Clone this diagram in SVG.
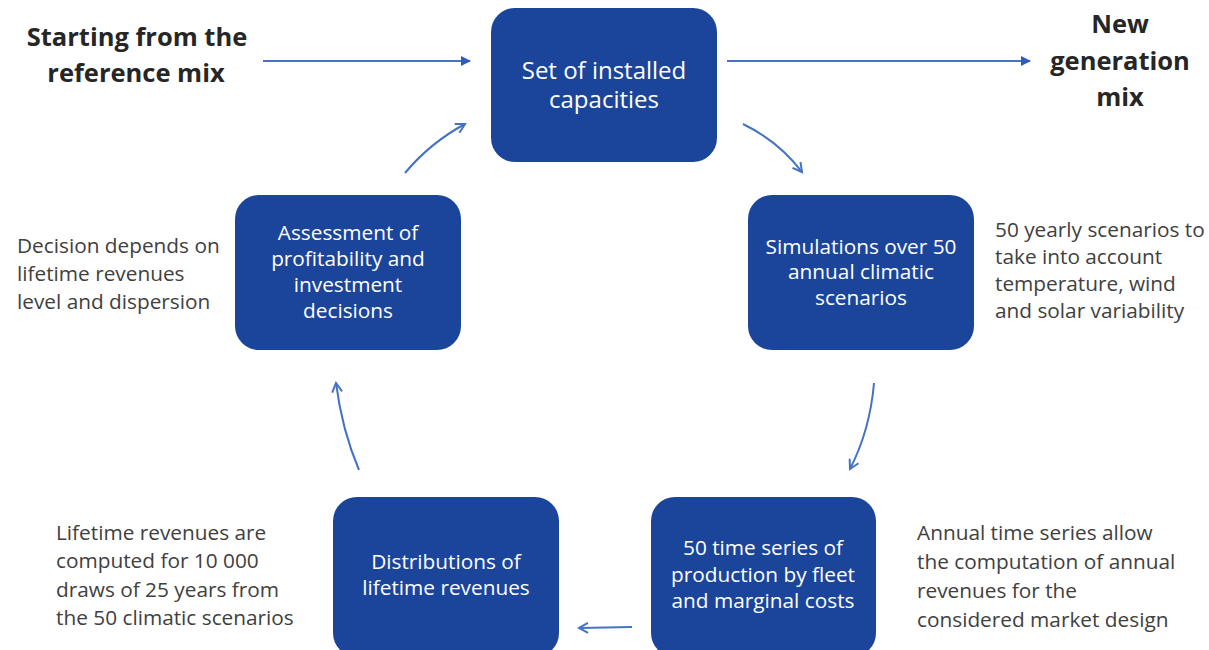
<svg xmlns="http://www.w3.org/2000/svg" width="1209" height="650" viewBox="0 0 1209 650">
<style>
.box{fill:#1B459B;}
.bt{font-family:"Open Sans",Lato,sans-serif;font-size:20.8px;fill:#ffffff;text-anchor:middle;}
.bt2{font-family:"Open Sans",Lato,sans-serif;font-size:24px;fill:#ffffff;text-anchor:middle;}
.an{font-family:"Open Sans",Lato,sans-serif;font-size:20.8px;fill:#404040;}
.hd{font-family:"Open Sans",Lato,sans-serif;font-size:25.5px;font-weight:bold;fill:#262626;text-anchor:middle;}
.ln{fill:none;stroke:#4472C4;stroke-width:2;}
</style>
<defs>
<marker id="tri" markerUnits="userSpaceOnUse" markerWidth="12" markerHeight="12" refX="9" refY="5" orient="auto">
<path d="M0,0 L10,5 L0,10 Z" fill="#2F5CB8"/>
</marker>
<marker id="vee" markerUnits="userSpaceOnUse" markerWidth="14" markerHeight="14" refX="10" refY="6" orient="auto">
<path d="M1,1 L10,6 L1,11" fill="none" stroke="#4472C4" stroke-width="2"/>
</marker>
</defs>
<rect width="1209" height="650" fill="#ffffff"/>
<g id="header-left">
<text class="hd" x="137" y="46">Starting from the</text>
<text class="hd" x="136" y="82">reference mix</text>
</g>
<g id="header-right">
<text class="hd" x="1120" y="33">New</text>
<text class="hd" x="1120" y="70">generation</text>
<text class="hd" x="1120" y="106">mix</text>
</g>
<g id="node-capacities">
<rect class="box" x="491" y="8" width="226" height="154" rx="24"/>
<text class="bt2" x="604" y="79">Set of installed</text>
<text class="bt2" x="604" y="108">capacities</text>
</g>
<g id="node-simulations">
<rect class="box" x="748" y="195" width="226" height="155" rx="24"/>
<text class="bt" x="861" y="254">Simulations over 50</text>
<text class="bt" x="861" y="279">annual climatic</text>
<text class="bt" x="861" y="305">scenarios</text>
</g>
<g id="node-timeseries">
<rect class="box" x="651" y="497" width="225" height="160" rx="24"/>
<text class="bt" x="763" y="555">50 time series of</text>
<text class="bt" x="763" y="582">production by fleet</text>
<text class="bt" x="763" y="608">and marginal costs</text>
</g>
<g id="node-distributions">
<rect class="box" x="333" y="497" width="226" height="160" rx="24"/>
<text class="bt" x="446" y="569">Distributions of</text>
<text class="bt" x="446" y="595">lifetime revenues</text>
</g>
<g id="node-assessment">
<rect class="box" x="235" y="195" width="226" height="155" rx="24"/>
<text class="bt" x="348" y="240">Assessment of</text>
<text class="bt" x="348" y="266">profitability and</text>
<text class="bt" x="348" y="292">investment</text>
<text class="bt" x="348" y="318">decisions</text>
</g>
<g id="notes">
<text class="an" x="995" y="237">50 yearly scenarios to</text>
<text class="an" x="995" y="264">take into account</text>
<text class="an" x="995" y="291">temperature, wind</text>
<text class="an" x="995" y="318">and solar variability</text>
<text class="an" x="917" y="540">Annual time series allow</text>
<text class="an" x="917" y="569">the computation of annual</text>
<text class="an" x="917" y="598">revenues for the</text>
<text class="an" x="917" y="627">considered market design</text>
<text class="an" x="56" y="540">Lifetime revenues  are</text>
<text class="an" x="56" y="568">computed for 10 000</text>
<text class="an" x="56" y="597">draws of 25 years from</text>
<text class="an" x="56" y="625">the 50 climatic scenarios</text>
<text class="an" x="17" y="253">Decision depends on</text>
<text class="an" x="17" y="281">lifetime revenues</text>
<text class="an" x="17" y="309">level and dispersion</text>
</g>
<g id="connectors">
<path class="ln" d="M263,61 L470,61" marker-end="url(#tri)"/>
<path class="ln" d="M727,61 L1030,61" marker-end="url(#tri)"/>
<path class="ln" d="M743,124 Q778,141 802,172" marker-end="url(#vee)"/>
<path class="ln" d="M874,383 Q870,430 850,469" marker-end="url(#vee)"/>
<path class="ln" d="M632,627 L579,628" marker-end="url(#vee)"/>
<path class="ln" d="M359,470 Q342,430 336,383" marker-end="url(#vee)"/>
<path class="ln" d="M405,173 Q430,143 465,124" marker-end="url(#vee)"/>
</g>
</svg>
